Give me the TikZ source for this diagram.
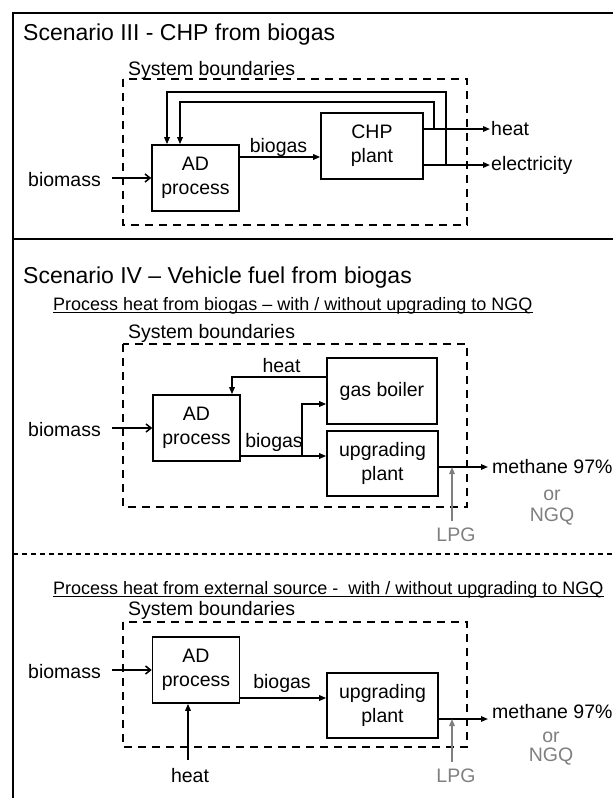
\documentclass[tikz,border=0pt]{standalone}
\usepackage{fontspec}
\setmainfont{Liberation Sans}
\usetikzlibrary{arrows.meta}
\definecolor{my gray}{HTML}{7F7F7F}
\newcommand{\txtfont}{\fontsize{19.5}{24}\selectfont}
\newcommand{\ttlfont}{\fontsize{23}{27}\selectfont}
\newcommand{\subfont}{\fontsize{18}{21}\selectfont}
\tikzset{
  proc box/.style={draw, line width=1.6pt, align=center, inner sep=0pt, font=\txtfont},
  sys bound/.style={line width=2.7pt, dash pattern=on 8pt off 6pt},
  frame line/.style={line width=1.5pt},
  flow/.style={line width=1.5pt, -{Triangle[length=7pt,width=5.5pt]}},
  gray flow/.style={flow, my gray},
  feed/.style={line width=1.5pt, -{Straight Barb[length=5pt,width=8pt]}},
  lbl/.style={font=\txtfont, inner sep=1pt},
  gray lbl/.style={lbl, text=my gray},
  ttl/.style={font=\ttlfont, inner sep=0pt, anchor=base west},
  subttl/.style={font=\subfont, inner sep=0pt, anchor=base west}
}

\begin{document}
\begin{tikzpicture}[x=1pt, y=-1pt]
    \useasboundingbox (0,0) rectangle (613,798);
    \draw [frame line] (613,13) -- (13,13) -- (13,798);
    \draw [frame line] (13,239) -- (613,239);
    \draw [line width=1.3pt, dash pattern=on 5pt off 4pt] (13,554) -- (613,554);

    \node [ttl] (ttlA) at (23,40) {Scenario III - CHP from biogas};
    \draw [sys bound] (123,79) rectangle (467,225);
    \node [lbl, anchor=base west, inner sep=0pt] (sbA) at (128,75) {System boundaries};
    \node [proc box, minimum width=87pt, minimum height=66pt] (adA) at (195.5,178) {AD\\process};
    \node [proc box, minimum width=102pt, minimum height=66pt] (chp) at (372,146) {CHP\\plant};
    \node [lbl, anchor=east] (bmA) at (102,180) {biomass};
    \coordinate (inA) at (112,178);
    \draw [feed] (inA) -- (adA.west);
    \coordinate (bgA) at ([yshift=21pt]adA.east);
    \draw [flow] (bgA) -- (bgA -| chp.west);
    \node [lbl] (bglA) at (278.5,147) {biogas};
    \node [lbl, anchor=west] (htA) at (490,129) {heat};
    \node [lbl, anchor=west] (elA) at (490,165) {electricity};
    \draw [flow] (chp.east |- htA.west) -- (htA.west);
    \draw [flow] (chp.east |- elA.west) -- (elA.west);
    \coordinate (fbA) at (434,102);
    \coordinate (fbB) at (446,92);
    \draw [flow] (fbA |- htA.west) -- (fbA) -| ([xshift=-15.5pt]adA.north);
    \draw [flow] (fbB |- elA.west) -- (fbB) -| ([xshift=-28.5pt]adA.north);

    \node [ttl] (ttlB) at (23,283) {Scenario IV -- Vehicle fuel from biogas};
    \node [subttl] (subB) at (53,310) {Process heat from biogas -- with / without upgrading to NGQ};
    \draw [line width=1pt] ([yshift=-2pt]subB.base west) -- ([yshift=-2pt]subB.base east);
    \node [lbl, anchor=base west, inner sep=0pt] (sbB) at (128,338) {System boundaries};
    \draw [sys bound] (123,344) rectangle (467,507);
    \node [proc box, minimum width=87pt, minimum height=66pt] (adB) at (196.5,428) {AD\\process};
    \node [proc box, minimum width=110pt, minimum height=66pt] (boiler) at (382,391) {gas boiler};
    \node [proc box, minimum width=111pt, minimum height=65pt] (upgB) at (382.5,463.5) {upgrading\\plant};
    \node [lbl, anchor=east] (bmB) at (102,430) {biomass};
    \coordinate (inB) at (112,428);
    \draw [feed] (inB) -- (adB.west);
    \draw [flow] ([yshift=14pt]boiler.west) -| ([xshift=35.5pt]adB.north);
    \node [lbl] (htB) at (281.5,366) {heat};
    \coordinate (bgB) at ([yshift=-28pt]adB.east);
    \draw [flow] (bgB) -- (bgB -| upgB.west);
    \coordinate (brB) at (302,456);
    \draw [flow] (brB) |- ([yshift=-13pt]boiler.west);
    \node [lbl] (bglB) at (274,442) {biogas};
    \coordinate (outB) at (488,467);
    \draw [flow] (upgB.east |- outB) -- (outB);
    \node [lbl, anchor=west] (mtB) at (491,467) {methane 97\%};
    \node [gray lbl] (orB) at (552,495) {or};
    \node [gray lbl] (ngqB) at (552,517) {NGQ};
    \node [gray lbl] (lpB) at (456,535) {LPG};
    \coordinate (lpgB) at (452,521);
    \draw [gray flow] (lpgB) -- (lpgB |- outB);

    \node [subttl] (subC) at (53,594.5) {Process heat from external source - \ with / without upgrading to NGQ};
    \draw [line width=1pt] ([yshift=-2pt]subC.base west) -- ([yshift=-2pt]subC.base east);
    \node [lbl, anchor=base west, inner sep=0pt] (sbC) at (128,615) {System boundaries};
    \draw [sys bound] (123,622) rectangle (467,747);
    \node [proc box, minimum width=87pt, minimum height=66pt] (adC) at (196,670) {AD\\process};
    \node [proc box, minimum width=111pt, minimum height=65pt] (upgC) at (382.5,705.5) {upgrading\\plant};
    \node [lbl, anchor=east] (bmC) at (102,672) {biomass};
    \coordinate (inC) at (112,670);
    \draw [feed] (inC) -- (adC.west);
    \coordinate (bgC) at ([yshift=-28pt]adC.east);
    \draw [flow] (bgC) -- (bgC -| upgC.west);
    \node [lbl] (bglC) at (282,683) {biogas};
    \coordinate (hsC) at (188,760);
    \draw [flow] (hsC) -- (hsC |- adC.south);
    \node [lbl] (htC) at (190,776) {heat};
    \coordinate (outC) at (488,719);
    \draw [flow] (upgC.east |- outC) -- (outC);
    \node [lbl, anchor=west] (mtC) at (491,712) {methane 97\%};
    \node [gray lbl] (orC) at (551,737) {or};
    \node [gray lbl] (ngqC) at (551,757) {NGQ};
    \node [gray lbl] (lpC) at (456,776) {LPG};
    \coordinate (lpgC) at (452,762);
    \draw [gray flow] (lpgC) -- (lpgC |- outC);
\end{tikzpicture}
\end{document}
